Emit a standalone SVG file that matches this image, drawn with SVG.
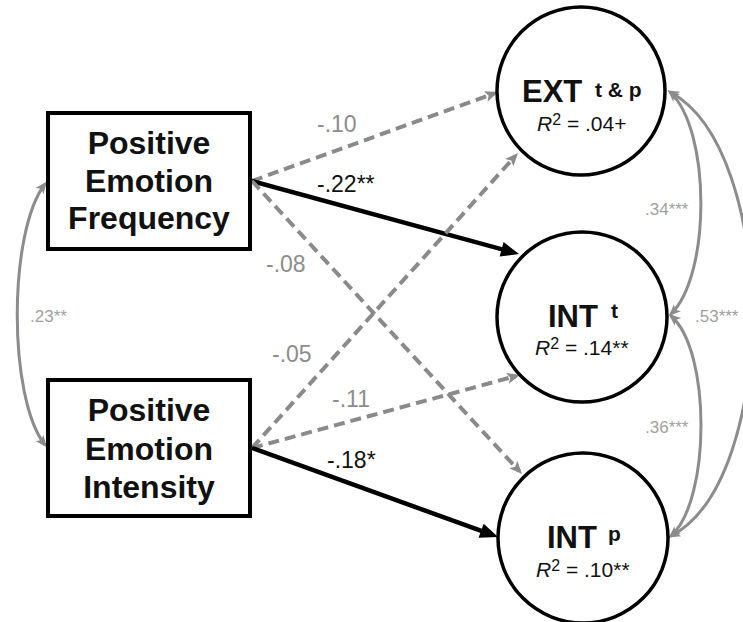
<svg xmlns="http://www.w3.org/2000/svg" width="743" height="622" viewBox="0 0 743 622">
  <style>
    .box { fill: #fff; stroke: #000; stroke-width: 4; }
    .node { fill: #fff; stroke: #000; stroke-width: 3.5; }
    .boxtxt { font-family: "Liberation Sans", Arial, sans-serif; font-weight: bold; font-size: 32px; fill: #111; text-anchor: middle; }
    .name { font-family: "Liberation Sans", Arial, sans-serif; font-weight: bold; font-size: 31px; fill: #111; }
    .sup { font-family: "Liberation Sans", Arial, sans-serif; font-weight: bold; font-size: 21px; fill: #111; }
    .r2 { font-family: "Liberation Sans", Arial, sans-serif; font-size: 21px; fill: #111; }
    .path-sig { fill: none; stroke: #000; stroke-width: 4.5; marker-end: url(#headBlack); }
    .path-ns { fill: none; stroke: #8a8a8a; stroke-width: 4; stroke-dasharray: 11 6; marker-end: url(#headGray); }
    .cov { fill: none; stroke: #8c8c8c; stroke-width: 3; marker-start: url(#headCov); marker-end: url(#headCov); }
    .lbl { font-family: "Liberation Sans", Arial, sans-serif; font-size: 23px; }
    .lbl-ns { fill: #8c8c8c; }
    .lbl-sig { fill: #111; }
    .lbl-cov { font-family: "Liberation Sans", Arial, sans-serif; font-size: 17px; fill: #a0a0a0; }
  </style>
  <defs>
    <marker id="headBlack" markerUnits="userSpaceOnUse" markerWidth="20" markerHeight="16" refX="12" refY="7.5" orient="auto" overflow="visible">
      <path d="M0,0 L18,7.5 L0,15 z" fill="#000"/>
    </marker>
    <marker id="headGray" markerUnits="userSpaceOnUse" markerWidth="14" markerHeight="12" refX="9" refY="5.5" orient="auto" overflow="visible">
      <path d="M0,0 L13,5.5 L0,11 L3,5.5 z" fill="#8a8a8a"/>
    </marker>
    <marker id="headCov" markerUnits="userSpaceOnUse" markerWidth="13" markerHeight="11" refX="9" refY="5" orient="auto-start-reverse" overflow="visible">
      <path d="M0,0 L12,5 L0,10 L3,5 z" fill="#8c8c8c"/>
    </marker>
  </defs>

  <!-- regression paths and covariances -->
  <g id="connectors">
    <path class="path-ns" d="M252,181 L494.2,93.4"/>
    <path class="path-sig" d="M252,181 L513.2,252.4"/>
    <path class="path-ns" d="M252,181 L519.3,471.1"/>
    <path class="path-ns" d="M252,448 L515.3,156"/>
    <path class="path-ns" d="M252,448 L516.1,376"/>
    <path class="path-sig" d="M252,448 L492.4,534.9"/>

    <path class="cov" d="M45,184 C8,232 8,398 45,445"/>
    <path class="cov" d="M670,92 C711,130 711,275 671,314"/>
    <path class="cov" d="M670,92 C779,150 779,480 671,536"/>
    <path class="cov" d="M671,316 C711,350 711,500 671,536"/>

    <text class="lbl lbl-ns" x="317" y="132">-.10</text>
    <text class="lbl lbl-sig" x="317" y="192">-.22**</text>
    <text class="lbl lbl-ns" x="266" y="272">-.08</text>
    <text class="lbl lbl-ns" x="272" y="362">-.05</text>
    <text class="lbl lbl-ns" x="332" y="407">-.11</text>
    <text class="lbl lbl-sig" x="327" y="468">-.18*</text>

    <text class="lbl-cov" x="30" y="322">.23**</text>
    <text class="lbl-cov" x="645" y="215">.34***</text>
    <text class="lbl-cov" x="695" y="322">.53***</text>
    <text class="lbl-cov" x="645" y="433">.36***</text>
  </g>

  <g id="pe-frequency">
    <rect class="box" x="48" y="113" width="202" height="136"/>
    <text class="boxtxt" x="149" y="154">Positive</text>
    <text class="boxtxt" x="149" y="192">Emotion</text>
    <text class="boxtxt" x="149" y="229">Frequency</text>
  </g>

  <g id="pe-intensity">
    <rect class="box" x="48" y="380" width="202" height="136"/>
    <text class="boxtxt" x="149" y="421">Positive</text>
    <text class="boxtxt" x="149" y="460">Emotion</text>
    <text class="boxtxt" x="149" y="498">Intensity</text>
  </g>

  <g id="ext">
    <circle class="node" cx="581" cy="91" r="84"/>
    <text class="name" x="522" y="102">EXT</text>
    <text class="sup" x="595" y="97">t &amp; p</text>
    <text class="r2" x="537" y="131"><tspan font-style="italic">R</tspan><tspan font-size="16" dy="-6">2</tspan><tspan dy="6"> = .04+</tspan></text>
  </g>

  <g id="int-t">
    <circle class="node" cx="582" cy="317" r="85"/>
    <text class="name" x="548" y="327">INT</text>
    <text class="sup" x="611" y="318">t</text>
    <text class="r2" x="535" y="355"><tspan font-style="italic">R</tspan><tspan font-size="16" dy="-6">2</tspan><tspan dy="6"> = .14**</tspan></text>
  </g>

  <g id="int-p">
    <circle class="node" cx="583" cy="538" r="85"/>
    <text class="name" x="547" y="548">INT</text>
    <text class="sup" x="608" y="541">p</text>
    <text class="r2" x="536" y="577"><tspan font-style="italic">R</tspan><tspan font-size="16" dy="-6">2</tspan><tspan dy="6"> = .10**</tspan></text>
  </g>
</svg>
